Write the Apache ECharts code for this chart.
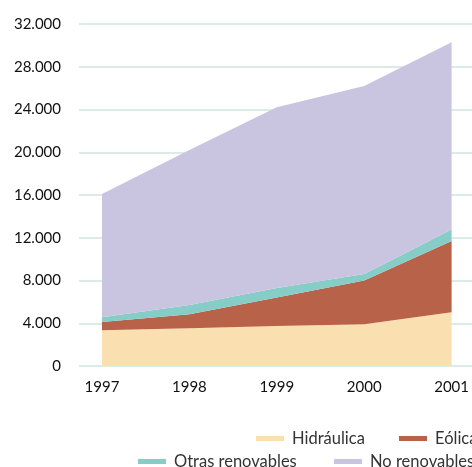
<!DOCTYPE html>
<html>
<head>
<meta charset="utf-8">
<script src="https://cdn.jsdelivr.net/npm/echarts@6/dist/echarts.min.js"></script>
<style>
  html, body { margin: 0; padding: 0; background: #fff; }
  #chart { width: 472px; height: 467px; }
</style>
</head>
<body>
<div id="chart"></div>
<script>
// Generación eléctrica por fuente (GWh), 1997–2001
const years = ['1997', '1998', '1999', '2000', '2001'];
const hidraulica = [3340, 3540, 3740, 3900, 5030];
const eolica = [780, 1300, 2660, 4100, 6670];
const otrasRenovables = [440, 860, 900, 600, 1070];
const noRenovables = [11540, 14500, 16900, 17600, 17530];
const yTicks = { min: 0, max: 32000, step: 4000 };

const FONT = 'Lato, "Open Sans", sans-serif';
const fmt = v => v === 0 ? '0' : String(v).replace(/\B(?=(\d{3})+(?!\d))/g, '.');

const names = ['Hidráulica', 'Eólica', 'Otras renovables', 'No renovables'];
const colors = ['#FADFB0', '#B9624A', '#86CCC7', '#C9C4DF'];
const values = [hidraulica, eolica, otrasRenovables, noRenovables];

// one legend entry per source, laid out in two rows
const legendSpots = [[256, 430], [399, 430], [138, 453], [334, 453]];
const legends = names.map((n, i) => ({
  data: [n], left: legendSpots[i][0], top: legendSpots[i][1], width: 400, padding: 0,
  itemWidth: 28, itemHeight: 5, icon: 'rect',
  textStyle: { fontFamily: FONT, fontSize: 16.5, color: '#333', padding: [0, 0, 0, 3] }
}));

const chart = echarts.init(document.getElementById('chart'));
chart.setOption({
  animation: false,
  color: colors,
  grid: [
    { left: 79, right: 0, top: 24, bottom: 101 },
    { left: 102, right: 12, top: 24, bottom: 101 }
  ],
  legend: legends,
  xAxis: [
    { gridIndex: 0, type: 'value', min: 0, max: 1, show: false },
    {
      gridIndex: 1, type: 'category', data: years, boundaryGap: false,
      axisLine: { show: false }, axisTick: { show: false },
      axisLabel: { margin: 14, fontFamily: FONT, fontSize: 15, color: '#111' }
    }
  ],
  yAxis: [
    {
      gridIndex: 0, type: 'value', min: yTicks.min, max: yTicks.max, interval: yTicks.step,
      axisLine: { show: false }, axisTick: { show: false },
      axisLabel: { margin: 18, fontFamily: FONT, fontSize: 15, color: '#111', formatter: fmt },
      splitLine: { lineStyle: { color: '#CFE4DE', width: 1.5 } }
    },
    {
      gridIndex: 1, type: 'value', min: yTicks.min, max: yTicks.max, interval: yTicks.step,
      show: false, splitLine: { show: false }
    }
  ],
  series: names.map((n, i) => ({
    name: n, type: 'line', stack: 'total', xAxisIndex: 1, yAxisIndex: 1,
    data: values[i], symbol: 'none', lineStyle: { width: 0 },
    areaStyle: { color: colors[i], opacity: 1 }, z: 2
  }))
});
</script>
</body>
</html>
